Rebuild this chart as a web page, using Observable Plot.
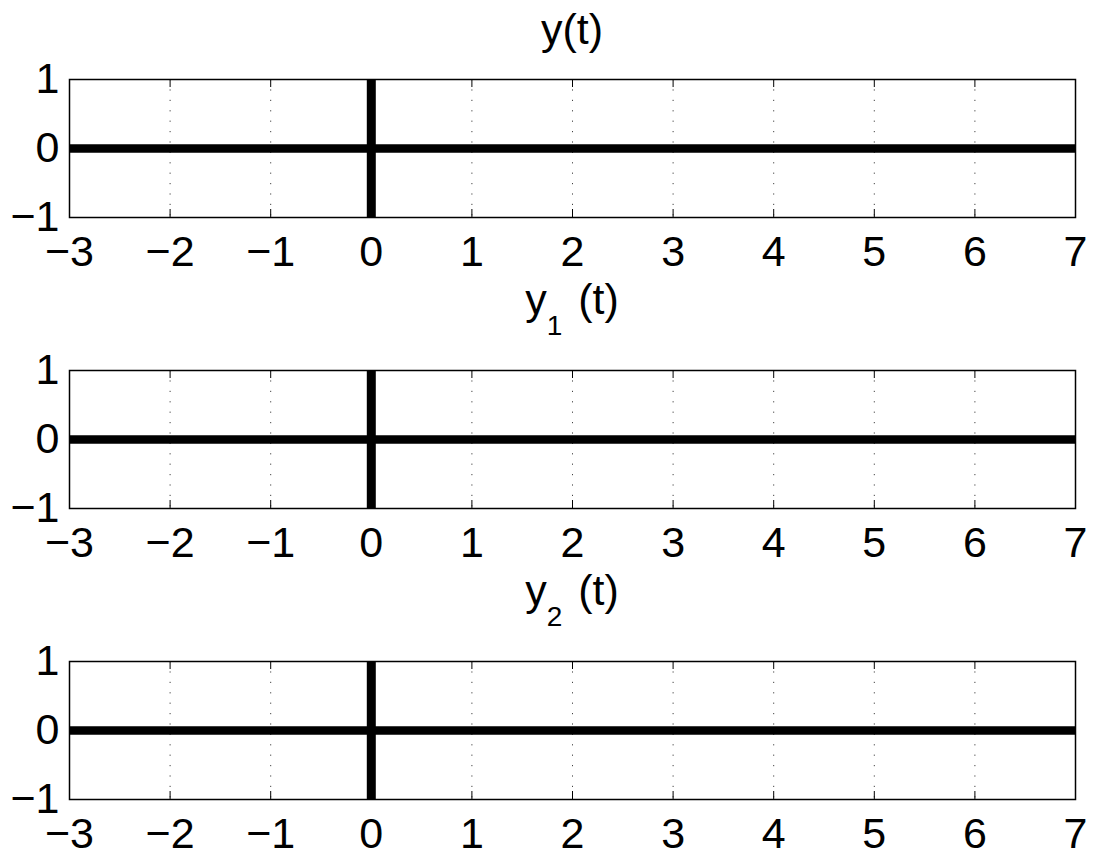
<!DOCTYPE html>
<html><head><meta charset="utf-8">
<script src="https://cdn.jsdelivr.net/npm/d3@7"></script>
<script src="https://cdn.jsdelivr.net/npm/@observablehq/plot@0.6"></script>
<style>
body{margin:0;background:#fff;}
#wrap{position:relative;width:1095px;height:858px;overflow:hidden;background:#fff;font-family:"Liberation Sans",Arial,sans-serif;color:#000;}
.panel{position:absolute;left:0;}
.title{position:absolute;left:69px;width:1006px;text-align:center;font-size:43px;line-height:43px;white-space:pre;}
.sub{font-size:28px;position:relative;top:21px;margin-right:4px;}
</style></head>
<body><div id="wrap"></div>
<script>
// ---- data ----
const xTicks = [-3, -2, -1, 0, 1, 2, 3, 4, 5, 6, 7];
const xTickLabels = ["\u22123", "\u22122", "\u22121", "0", "1", "2", "3", "4", "5", "6", "7"];
const yTicks = [-1, 0, 1];
const yTickLabels = ["\u22121", "0", "1"];

const signalT = [-3, 7];          // time samples of the flat signal
const yValues = [0, 0];           // y(t)
const y1Values = [0, 0];          // y1(t)
const y2Values = [0, 0];          // y2(t)

const impulseT = [0];             // impulse location
const impulseLow = [-1];
const impulseHigh = [1];

const titleMain = ["y", "y", "y"];
const titleSub = ["", "1", "2"];
const titleRest = ["(t)", " (t)", " (t)"];

// ---- layout ----
const wrap = document.getElementById("wrap");
const panelTops = [0, 291, 582];
const panelHeights = [291, 291, 276];
const titleTops = [8, 278, 569];
const frameH = 138;

function makePanel(values, height) {
  const line = signalT.map((t, i) => ({t, v: values[i]}));
  const imp = impulseT.map((t, i) => ({t, lo: impulseLow[i], hi: impulseHigh[i]}));
  return Plot.plot({
    width: 1095, height,
    marginLeft: 69, marginRight: 20, marginTop: 79, marginBottom: height - 79 - frameH,
    style: {fontFamily: '"Liberation Sans", Arial, sans-serif', fontSize: "43px", color: "#000", background: "#fff", overflow: "visible"},
    x: {domain: [-3, 7], label: null},
    y: {domain: [-1, 1], label: null},
    marks: [
      Plot.ruleX(xTicks, {x: d => d, stroke: "#444", strokeWidth: 1, strokeDasharray: "1.2,9.2"}),
      Plot.tickX(xTicks, {x: d => d, insetTop: frameH - 8, stroke: "#000", strokeWidth: 1}),
      Plot.tickX(xTicks, {x: d => d, insetBottom: frameH - 8, stroke: "#000", strokeWidth: 1}),
      Plot.line(line, {x: "t", y: "v", stroke: "#000", strokeWidth: 8.5, strokeLinecap: "butt"}),
      Plot.ruleX(imp, {x: "t", y1: "lo", y2: "hi", stroke: "#000", strokeWidth: 9}),
      Plot.frame({stroke: "#000", strokeWidth: 1.5}),
      Plot.axisX(xTicks, {tickSize: 0, tickPadding: 18, fontSize: 43, label: null,
        tickFormat: d => xTickLabels[xTicks.indexOf(d)]}),
      Plot.axisY(yTicks, {tickSize: 0, tickPadding: 10, fontSize: 43, label: null,
        tickFormat: d => yTickLabels[yTicks.indexOf(d)]})
    ]
  });
}

const series = [yValues, y1Values, y2Values];
series.forEach((vals, i) => {
  const div = document.createElement("div");
  div.className = "panel";
  div.style.top = panelTops[i] + "px";
  div.appendChild(makePanel(vals, panelHeights[i]));
  wrap.appendChild(div);
});

series.forEach((vals, i) => {
  const t = document.createElement("div");
  t.className = "title";
  t.style.top = titleTops[i] + "px";
  const a = document.createElement("span");
  a.textContent = titleMain[i];
  t.appendChild(a);
  if (titleSub[i]) {
    const s = document.createElement("span");
    s.className = "sub";
    s.textContent = titleSub[i];
    t.appendChild(s);
  }
  const r = document.createElement("span");
  r.textContent = titleRest[i];
  t.appendChild(r);
  wrap.appendChild(t);
});
</script>
</body></html>
